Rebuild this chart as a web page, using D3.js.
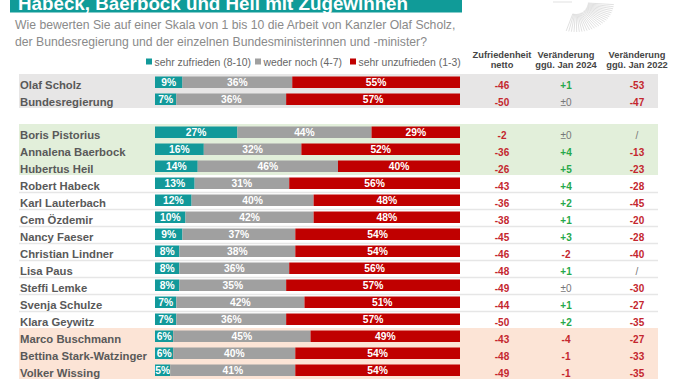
<!DOCTYPE html>
<html><head><meta charset="utf-8">
<script src="https://cdn.jsdelivr.net/npm/d3@7"></script>
<style>body{margin:0;background:#fff}svg{display:block}text{font-family:"Liberation Sans",Arial,sans-serif}</style>
</head><body><svg id="c" width="678" height="381"></svg>
<script>
const names = ["Olaf Scholz","Bundesregierung","Boris Pistorius","Annalena Baerbock","Hubertus Heil","Robert Habeck","Karl Lauterbach","Cem Özdemir","Nancy Faeser","Christian Lindner","Lisa Paus","Steffi Lemke","Svenja Schulze","Klara Geywitz","Marco Buschmann","Bettina Stark-Watzinger","Volker Wissing"];
const zufrieden = [9,7,27,16,14,13,12,10,9,8,8,8,7,7,6,6,5];
const wederNoch = [36,36,44,32,46,31,40,42,37,38,36,35,42,36,45,40,41];
const unzufrieden = [55,57,29,52,40,56,48,48,54,54,56,57,51,57,49,54,54];
const netto = ["-46","-50","-2","-36","-26","-43","-36","-38","-45","-46","-48","-49","-44","-50","-43","-48","-49"];
const chg2024 = ["+1","±0","±0","+4","+5","+4","+2","+1","+3","-2","+1","±0","+1","+2","-4","-1","-1"];
const chg2022 = ["-53","-47","/","-13","-23","-28","-45","-20","-28","-40","/","-30","-27","-35","-27","-33","-35"];
const groups = ["gov","gov","up","up","up","","","","","","","","","","down","down","down"];
const legendLabels = ["sehr zufrieden (8-10)","weder noch (4-7)","sehr unzufrieden (1-3)"];
const colHeaders = [["Zufriedenheit","netto"],["Veränderung","ggü. Jan 2024"],["Veränderung","ggü. Jan 2022"]];
const title = "Habeck, Baerbock und Heil mit Zugewinnen";
const subtitle = ["Wie bewerten Sie auf einer Skala von 1 bis 10 die Arbeit von Kanzler Olaf Scholz,","der Bundesregierung und der einzelnen Bundesministerinnen und -minister?"];

const C = {teal:"#12999a", gray:"#a0a0a0", red:"#c00000", txtRed:"#c4262e", green:"#27a849", neutral:"#777"};
const bandColor = {gov:"#e7e6e6", up:"#e2efda", down:"#fce4d6"};
const svg = d3.select("#c");

// logo fan (decorative)
const logo = svg.append("g").attr("stroke","#d4d4d4").attr("stroke-width",0.7);
logo.append("line").attr("x1",553).attr("y1",2).attr("x2",572).attr("y2",2);
for(let a=5;a<=105;a+=4){
  const r=a*Math.PI/180;
  logo.append("line").attr("x1",576+Math.cos(r)*12).attr("y1",2+Math.sin(r)*12)
      .attr("x2",576+Math.cos(r)*38).attr("y2",2+Math.sin(r)*30);
}

// title banner
svg.append("rect").attr("x",10).attr("y",0).attr("width",452).attr("height",12.5).attr("fill","#109b98");
svg.append("text").attr("x",18).attr("y",9.5).attr("fill","#fff").attr("font-weight","bold").attr("font-size",19)
  .attr("textLength",390).attr("lengthAdjust","spacingAndGlyphs").text(title);
subtitle.forEach((s,i)=>svg.append("text").attr("x",15).attr("y",29+i*17).attr("fill","#8a8a8a").attr("font-size",12.2).text(s));

// scales
const x = d3.scaleLinear().domain([0,100]).range([155,460]);
const rowY = names.map((d,i)=>84+i*17+(i>=2?16:0));
const y = d3.scaleOrdinal().domain(names).range(rowY);

// legend
const legX=[146,255,350], legCol=[C.teal,C.gray,C.red];
legendLabels.forEach((l,i)=>{
  svg.append("rect").attr("x",legX[i]).attr("y",58.5).attr("width",6).attr("height",6).attr("fill",legCol[i]);
  svg.append("text").attr("x",legX[i]+8.5).attr("y",65.5).attr("fill","#666").attr("font-size",10.4).text(l);
});

// column headers
const colX=[502,566,637];
colHeaders.forEach((h,i)=>h.forEach((t,j)=>svg.append("text").attr("x",colX[i]).attr("y",58+j*9.5)
  .attr("text-anchor","middle").attr("font-size",9.3).attr("font-weight","bold").attr("fill","#454545").text(t)));

// row bands & separators
names.forEach((n,i)=>{
  const cy=y(n);
  if(groups[i]) svg.append("rect").attr("x",19).attr("y",cy-10).attr("width",639).attr("height",17).attr("fill",bandColor[groups[i]]);
  else if(i<13) svg.append("line").attr("x1",19).attr("x2",658).attr("y1",cy+7.5).attr("y2",cy+7.5).attr("stroke","#e6e6e6").attr("stroke-width",1.5);
});

// names
names.forEach((n,i)=>svg.append("text").attr("x",20).attr("y",y(n)+4.5).attr("font-size",11.3).attr("font-weight","bold").attr("fill","#595959").text(n));

// bars
const series=[zufrieden,wederNoch,unzufrieden];
names.forEach((n,i)=>{
  let acc=0;
  series.forEach((s,k)=>{
    const v=s[i], x0=x(acc), x1=x(acc+v); acc+=v;
    svg.append("rect").attr("x",x0).attr("y",y(n)-7.5).attr("width",x1-x0).attr("height",11.5).attr("fill",legCol[k]);
    svg.append("text").attr("x",(x0+x1)/2).attr("y",y(n)+2).attr("text-anchor","middle").attr("fill","#fff")
      .attr("font-size",10.3).attr("font-weight","bold").text(v+"%");
  });
});

// value columns
function col(v){ if(v.startsWith("+")) return C.green; if(v.startsWith("-")) return C.txtRed; return C.neutral; }
names.forEach((n,i)=>{
  [netto[i],chg2024[i],chg2022[i]].forEach((v,k)=>{
    svg.append("text").attr("x",colX[k]).attr("y",y(n)+4.5).attr("text-anchor","middle").attr("font-size",10)
      .attr("font-weight",v==="±0"||v==="/"?"normal":"bold").attr("fill",col(v)).text(v);
  });
});
</script></body></html>
